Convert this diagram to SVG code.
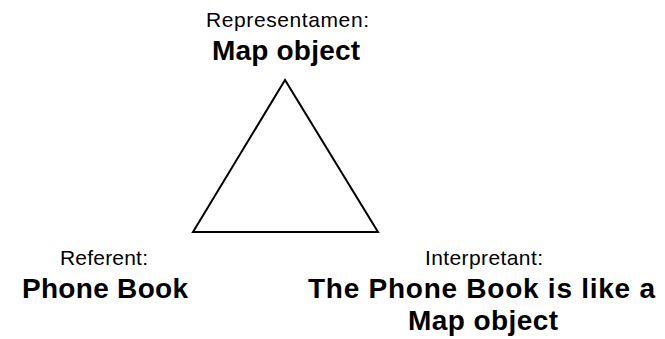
<svg xmlns="http://www.w3.org/2000/svg" width="665" height="339" viewBox="0 0 665 339">
  <style>
    .lbl { font-family: "Liberation Sans", Arial, sans-serif; font-size: 21px; fill: #000; text-anchor: middle; }
    .big { font-family: "Liberation Sans", Arial, sans-serif; font-size: 28px; font-weight: bold; fill: #000; text-anchor: middle; }
    .edge { fill: none; stroke: #000; stroke-width: 2; stroke-linejoin: miter; }
  </style>
  <rect width="665" height="339" fill="#fff"/>
  <g id="connectors">
    <polygon class="edge" points="285,80 193,232 378,232"/>
  </g>
  <g id="representamen">
    <text class="lbl" x="287.5" y="26.5" textLength="163" lengthAdjust="spacing">Representamen:</text>
    <text class="big" x="286" y="60" textLength="148" lengthAdjust="spacing">Map object</text>
  </g>
  <g id="referent">
    <text class="lbl" x="104" y="265" textLength="88" lengthAdjust="spacing">Referent:</text>
    <text class="big" x="105" y="298" textLength="166" lengthAdjust="spacing">Phone Book</text>
  </g>
  <g id="interpretant">
    <text class="lbl" x="484" y="265" textLength="118" lengthAdjust="spacing">Interpretant:</text>
    <text class="big" x="481.5" y="298" textLength="347" lengthAdjust="spacing">The Phone Book is like a</text>
    <text class="big" x="483" y="330" textLength="150" lengthAdjust="spacing">Map object</text>
  </g>
</svg>
